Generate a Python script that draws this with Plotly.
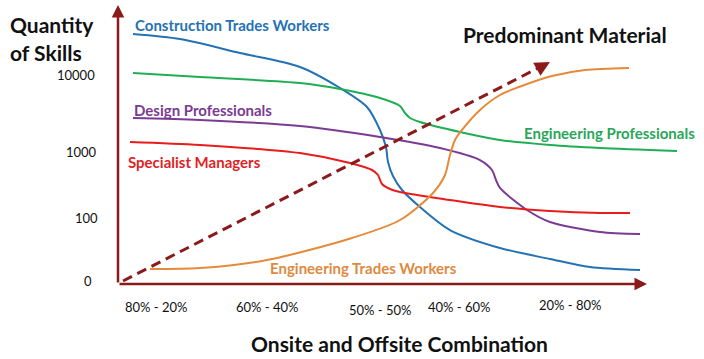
import plotly.graph_objects as go

# ---- data (position index along the onsite/offsite axis, skill-level index) ----
ctw_x = [2.84, 11.72, 23.06, 34.40, 41.97, 47.07, 49.53, 50.66, 51.04, 51.98, 53.69, 57.09, 62.76, 72.21, 81.66, 89.22, 98.68]
ctw_y = [89.61, 87.81, 82.80, 77.78, 70.25, 63.44, 55.20, 49.10, 43.73, 38.71, 33.69, 27.60, 19.35, 12.90, 8.96, 6.09, 5.02]

ep_x = [2.84, 15.50, 34.40, 41.97, 49.53, 53.31, 54.25, 55.20, 57.09, 64.65, 72.21, 81.66, 91.12, 105.67]
ep_y = [75.63, 74.19, 72.04, 69.89, 66.67, 63.80, 61.29, 59.50, 58.06, 54.48, 51.61, 49.82, 48.75, 47.67]

dp_x = [2.84, 15.50, 34.40, 49.53, 60.87, 68.43, 70.70, 71.46, 72.21, 77.32, 81.66, 91.12, 98.68]
dp_y = [59.50, 58.78, 56.63, 52.69, 48.75, 44.44, 40.86, 37.28, 34.41, 26.52, 22.22, 18.64, 17.92]

sm_x = [2.27, 15.50, 34.40, 43.86, 48.02, 49.15, 49.91, 51.42, 53.31, 62.76, 72.21, 81.66, 91.12, 96.79]
sm_y = [50.90, 49.82, 46.95, 43.37, 40.86, 39.07, 35.84, 34.05, 32.97, 30.11, 27.60, 26.16, 25.45, 25.45]

etw_x = [6.05, 15.50, 28.17, 44.23, 53.31, 59.55, 61.81, 62.76, 63.71, 65.03, 68.43, 72.21, 75.80, 82.04, 88.28, 96.60]
etw_y = [5.38, 5.73, 8.60, 16.49, 22.94, 32.62, 39.07, 46.24, 51.61, 55.20, 62.37, 67.74, 70.61, 74.55, 76.70, 77.42]

material_x = [0.95, 81.66]
material_y = [1.08, 79.57]

y_tick_labels = ["10000", "1000", "100", "0"]
y_tick_pos = [74.91, 47.31, 23.66, 1.08]
y_tick_right = [-3.9, -3.6, -3.4, -4.5]

x_tick_labels = ["80% - 20%", "60% - 40%", "50% - 50%", "40% - 60%", "20% - 80%"]
x_tick_pos = [7.37, 28.17, 49.53, 64.65, 85.63]
x_tick_y = [-8.24, -8.24, -9.32, -8.24, -7.53]

series = [
    ("Construction Trades Workers", ctw_x, ctw_y, "#2472B4", "#2472B4", 2.84, 92.83),
    ("Engineering Professionals", ep_x, ep_y, "#1FAE54", "#2AA65A", 76.37, 54.12),
    ("Design Professionals", dp_x, dp_y, "#7B3B93", "#7B3B93", 2.65, 62.37),
    ("Specialist Managers", sm_x, sm_y, "#E81C1C", "#E01F26", 1.51, 43.73),
    ("Engineering Trades Workers", etw_x, etw_y, "#E6893A", "#DE8A3E", 28.36, 5.73),
]

X_RANGE = [0, 110.78]
Y_RANGE = [0, 101.79]
AX = "#8B1A1A"
FONT = "Lato"


def px(v):
    return (v - X_RANGE[0]) / (X_RANGE[1] - X_RANGE[0])


def py(v):
    return (v - Y_RANGE[0]) / (Y_RANGE[1] - Y_RANGE[0])


fig = go.Figure()
for name, xs, ys, lc, tc, lx, ly in series:
    fig.add_trace(go.Scatter(x=xs, y=ys, mode="lines", name=name,
                             line=dict(color=lc, width=2, shape="spline", smoothing=0.8),
                             hoverinfo="skip"))

fig.add_trace(go.Scatter(x=material_x, y=material_y, mode="lines",
                         line=dict(color=AX, width=3, dash="10px,6px"), hoverinfo="skip"))

ann = []
# axes arrows
ann.append(dict(x=0, y=100, ax=0, ay=0, xref="x", yref="y", axref="x", ayref="y",
                showarrow=True, arrowhead=2, arrowsize=1, arrowwidth=2.5, arrowcolor=AX, text=""))
ann.append(dict(x=100, y=0, ax=0, ay=0, xref="x", yref="y", axref="x", ayref="y",
                showarrow=True, arrowhead=2, arrowsize=1, arrowwidth=2.5, arrowcolor=AX, text=""))
# head of dashed arrow
ann.append(dict(x=material_x[1], y=material_y[1], ax=-9, ay=5, xref="x", yref="y",
                showarrow=True, arrowhead=2, arrowsize=1, arrowwidth=3, arrowcolor=AX, text=""))

for name, xs, ys, lc, tc, lx, ly in series:
    ann.append(dict(x=lx, y=ly, xref="x", yref="y", text="<b>%s</b>" % name, showarrow=False,
                    xanchor="left", yanchor="middle", font=dict(family=FONT, size=15, color=tc)))

ann.append(dict(x=64.84, y=89.25, xref="x", yref="y", text="<b>Predominant Material</b>", showarrow=False,
                xanchor="left", yanchor="middle", font=dict(family=FONT, size=21, color="#111111")))
ann.append(dict(x=px(-20.79), y=py(92.83), xref="paper", yref="paper", text="<b>Quantity</b>", showarrow=False,
                xanchor="left", yanchor="middle", font=dict(family=FONT, size=21, color="#111111")))
ann.append(dict(x=px(-20.79), y=py(83.15), xref="paper", yref="paper", text="<b>of Skills</b>", showarrow=False,
                xanchor="left", yanchor="middle", font=dict(family=FONT, size=21, color="#111111")))
ann.append(dict(x=px(53.31), y=py(-21.15), xref="paper", yref="paper", text="<b>Onsite and Offsite Combination</b>",
                showarrow=False, xanchor="center", yanchor="middle",
                font=dict(family=FONT, size=21, color="#111111")))

for t, p, r in zip(y_tick_labels, y_tick_pos, y_tick_right):
    ann.append(dict(x=px(r), y=py(p), xref="paper", yref="paper", text=t, showarrow=False,
                    xanchor="right", yanchor="middle", font=dict(family=FONT, size=13, color="#111111")))
for t, p, yy in zip(x_tick_labels, x_tick_pos, x_tick_y):
    ann.append(dict(x=px(p), y=py(yy), xref="paper", yref="paper", text=t, showarrow=False,
                    xanchor="center", yanchor="middle", font=dict(family=FONT, size=13, color="#111111")))

fig.update_layout(
    width=704, height=359,
    margin=dict(l=118, r=0, t=0, b=75),
    paper_bgcolor="white", plot_bgcolor="white",
    showlegend=False,
    xaxis=dict(range=X_RANGE, visible=False, fixedrange=True),
    yaxis=dict(range=Y_RANGE, visible=False, fixedrange=True),
    annotations=ann,
)

fig.write_html("out.html")
